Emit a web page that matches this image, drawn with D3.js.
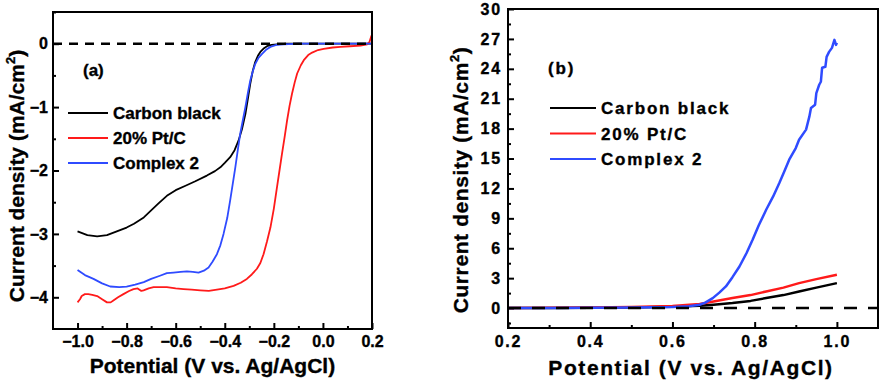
<!DOCTYPE html>
<html lang="en">
<head>
<meta charset="UTF-8">
<title>LSV curves</title>
<script src="https://d3js.org/d3.v7.min.js"></script>
<style>
    body { margin: 0; background: #fff; }
    text { font-family: "Liberation Sans", Arial, sans-serif; font-weight: bold; fill: #000; stroke: #000; stroke-width: 0.35px; }
    .frame { fill: none; stroke: #000; stroke-width: 2px; }
    .curve { fill: none; stroke-linejoin: round; }
    .zero { stroke: #000; stroke-width: 2.5px; }
    .axis path { display: none; }
    .axis line { stroke: #000; stroke-width: 2px; }
</style>
</head>
<body>
<svg id="chart" width="884" height="385"></svg>
<script>
// ---- panel (a): ORR ----
const cbX_a = [-1.0, -0.96, -0.92, -0.88, -0.84, -0.80, -0.77, -0.73, -0.70, -0.67, -0.636, -0.60, -0.56, -0.52, -0.473, -0.44, -0.418, -0.40, -0.378, -0.36, -0.344, -0.33, -0.316, -0.305, -0.296, -0.286, -0.276, -0.265, -0.255, -0.24, -0.228, -0.21, -0.187, -0.15, -0.1, 0, 0.1, 0.2];
const cbY_a = [-2.96, -3.02, -3.04, -3.02, -2.96, -2.90, -2.84, -2.74, -2.63, -2.52, -2.40, -2.31, -2.24, -2.17, -2.08, -2.01, -1.95, -1.88, -1.79, -1.68, -1.53, -1.35, -1.11, -0.85, -0.63, -0.43, -0.29, -0.19, -0.13, -0.07, -0.04, -0.02, -0.01, 0, 0, 0, 0, 0];

const ptX_a = [-1.0, -0.99, -0.983, -0.97, -0.956, -0.94, -0.92, -0.90, -0.88, -0.865, -0.854, -0.835, -0.813, -0.79, -0.772, -0.755, -0.74, -0.731, -0.71, -0.69, -0.66, -0.636, -0.60, -0.568, -0.535, -0.50, -0.465, -0.432, -0.40, -0.364, -0.335, -0.31, -0.29, -0.269, -0.255, -0.242, -0.228, -0.214, -0.20, -0.187, -0.177, -0.167, -0.156, -0.146, -0.136, -0.126, -0.115, -0.105, -0.09, -0.078, -0.06, -0.044, -0.02, 0.003, 0.04, 0.071, 0.11, 0.153, 0.18, 0.19, 0.198];
const ptY_a = [-4.08, -4.03, -3.98, -3.95, -3.95, -3.96, -3.98, -4.03, -4.08, -4.08, -4.05, -4.00, -3.95, -3.90, -3.87, -3.86, -3.90, -3.89, -3.86, -3.84, -3.84, -3.84, -3.86, -3.87, -3.88, -3.89, -3.90, -3.88, -3.86, -3.82, -3.77, -3.71, -3.64, -3.55, -3.46, -3.32, -3.12, -2.90, -2.60, -2.26, -2.00, -1.74, -1.47, -1.21, -0.98, -0.79, -0.61, -0.47, -0.34, -0.26, -0.18, -0.14, -0.10, -0.08, -0.06, -0.05, -0.04, -0.03, -0.01, 0.03, 0.13];

const c2X_a = [-1.0, -0.97, -0.935, -0.90, -0.867, -0.83, -0.80, -0.765, -0.73, -0.70, -0.664, -0.636, -0.609, -0.58, -0.554, -0.53, -0.507, -0.485, -0.466, -0.45, -0.432, -0.418, -0.405, -0.39, -0.378, -0.367, -0.357, -0.347, -0.337, -0.326, -0.316, -0.306, -0.296, -0.286, -0.276, -0.262, -0.248, -0.23, -0.214, -0.19, -0.16, -0.1, 0, 0.1, 0.2];
const c2Y_a = [-3.57, -3.65, -3.71, -3.78, -3.83, -3.84, -3.83, -3.80, -3.76, -3.71, -3.66, -3.62, -3.61, -3.60, -3.59, -3.60, -3.61, -3.58, -3.53, -3.44, -3.32, -3.18, -3.00, -2.75, -2.47, -2.20, -1.95, -1.68, -1.42, -1.20, -1.0, -0.78, -0.58, -0.44, -0.32, -0.22, -0.16, -0.09, -0.05, -0.02, -0.01, 0, 0, 0, 0];

// ---- panel (b): OER ----
const cbX_b = [0.2, 0.3, 0.4, 0.5, 0.6, 0.666, 0.70, 0.746, 0.79, 0.828, 0.87, 0.908, 0.95, 1.0];
const cbY_b = [0, 0.01, 0.03, 0.06, 0.12, 0.23, 0.33, 0.5, 0.72, 1.0, 1.3, 1.67, 2.05, 2.5];

const ptX_b = [0.2, 0.3, 0.4, 0.5, 0.6, 0.666, 0.70, 0.746, 0.79, 0.828, 0.87, 0.908, 0.95, 1.0];
const ptY_b = [0, 0.02, 0.05, 0.1, 0.2, 0.4, 0.65, 1.0, 1.3, 1.67, 2.05, 2.5, 2.9, 3.34];

const c2X_b = [0.2, 0.3, 0.4, 0.5, 0.6, 0.64, 0.666, 0.68, 0.698, 0.714, 0.73, 0.746, 0.763, 0.78, 0.795, 0.81, 0.828, 0.845, 0.86, 0.872, 0.884, 0.9, 0.908, 0.925, 0.933, 0.937, 0.947, 0.95, 0.957, 0.961, 0.964, 0.972, 0.975, 0.981, 0.988, 0.994, 0.998, 1.0];
const c2Y_b = [0, 0, 0.02, 0.05, 0.1, 0.18, 0.33, 0.55, 1.0, 1.55, 2.17, 3.1, 4.17, 5.5, 6.85, 8.3, 9.86, 11.2, 12.54, 13.7, 14.88, 16.05, 16.89, 17.9, 19.2, 20.07, 20.4, 21.57, 22.4, 22.7, 24.1, 24.2, 25.2, 25.7, 26.1, 26.9, 26.4, 26.6];

const seriesNames = ["Carbon black", "20% Pt/C", "Complex 2"];
const seriesColors = ["#000000", "#ff1a1a", "#2f4bff"];

const xTicksA = [-1.0, -0.8, -0.6, -0.4, -0.2, 0.0, 0.2];
const xMinorA = [-0.9, -0.7, -0.5, -0.3, -0.1, 0.1];
const yTicksA = [0, -1, -2, -3, -4];
const yMinorA = [0.5, -0.5, -1.5, -2.5, -3.5];

const xTicksB = [0.2, 0.4, 0.6, 0.8, 1.0];
const xMinorB = [0.3, 0.5, 0.7, 0.9];
const yTicksB = [0, 3, 6, 9, 12, 15, 18, 21, 24, 27, 30];
const yMinorB = [-1.5, 1.5, 4.5, 7.5, 10.5, 13.5, 16.5, 19.5, 22.5, 25.5, 28.5];

const svg = d3.select("#chart");

function zip(xs, ys) { return xs.map((v, i) => [v, ys[i]]); }

function drawPanel(p) {
    const x = d3.scaleLinear().domain(p.xDomain).range([p.left, p.right]);
    const y = d3.scaleLinear().domain(p.yDomain).range([p.bottom, p.top]);
    const g = svg.append("g");
    const ls = p.spacing + "px";

    // minor ticks
    g.append("g").attr("class", "axis").attr("transform", `translate(0,${p.bottom})`)
        .call(d3.axisBottom(x).tickValues(p.xMinor).tickSize(-3).tickFormat(""));
    g.append("g").attr("class", "axis").attr("transform", `translate(${p.left},0)`)
        .call(d3.axisLeft(y).tickValues(p.yMinor).tickSize(-3).tickFormat(""));

    // major ticks + labels
    const xa = g.append("g").attr("class", "axis").attr("transform", `translate(0,${p.bottom})`)
        .call(d3.axisBottom(x).tickValues(p.xTicks).tickSize(-6).tickPadding(p.xPad).tickFormat(d3.format(".1f")));
    xa.selectAll("text").attr("font-size", 16).attr("fill", "#000")
        .style("font-family", '"Liberation Sans", Arial, sans-serif').style("letter-spacing", ls);
    const ya = g.append("g").attr("class", "axis").attr("transform", `translate(${p.left},0)`)
        .call(d3.axisLeft(y).tickValues(p.yTicks).tickSize(-6).tickPadding(p.yPad).tickFormat(d3.format("d")));
    ya.selectAll("text").attr("font-size", 16).attr("fill", "#000")
        .style("font-family", '"Liberation Sans", Arial, sans-serif').style("letter-spacing", ls);

    // curves
    const line = d3.line().x(d => x(d[0])).y(d => y(d[1]));
    p.series.forEach((s, i) => {
        g.append("path").attr("class", "curve")
            .attr("d", line(s))
            .attr("stroke", seriesColors[i])
            .attr("stroke-width", p.lineWidth);
    });

    // zero reference line
    g.append("line").attr("class", "zero")
        .attr("x1", p.left).attr("x2", p.right)
        .attr("y1", y(0)).attr("y2", y(0))
        .attr("stroke-dasharray", p.dash);

    // frame
    g.append("rect").attr("class", "frame")
        .attr("x", p.left).attr("y", p.top)
        .attr("width", p.right - p.left).attr("height", p.bottom - p.top);

    // panel label
    g.append("text").attr("x", p.tagX).attr("y", p.tagY)
        .attr("font-size", 17).style("letter-spacing", ls).text(p.tag);

    // legend
    seriesNames.forEach((name, i) => {
        const yy = p.legY + i * p.legStep;
        g.append("line").attr("x1", p.legX).attr("x2", p.legX + p.legLen)
            .attr("y1", yy).attr("y2", yy)
            .attr("stroke", seriesColors[i]).attr("stroke-width", 2);
        g.append("text").attr("x", p.legX + p.legLen + 5).attr("y", yy + 6)
            .attr("font-size", 17).style("letter-spacing", ls).text(name);
    });

    // axis titles
    g.append("text").attr("x", (p.left + p.right) / 2 + p.xTitleDx).attr("y", p.xTitleY)
        .attr("text-anchor", "middle").attr("font-size", 21)
        .style("letter-spacing", p.titleSpacing + "px")
        .text("Potential (V vs. Ag/AgCl)");
    const yt = g.append("text")
        .attr("transform", `translate(${p.yTitleX},${p.yTitleY}) rotate(-90)`)
        .attr("text-anchor", "middle").attr("font-size", 21)
        .style("letter-spacing", p.yTitleSpacing + "px");
    yt.append("tspan").text("Current density (mA/cm");
    yt.append("tspan").attr("font-size", 13).attr("dy", -9).text("2");
    yt.append("tspan").attr("dy", 9).text(")");
}

drawPanel({
    xDomain: [-1.1, 0.2], yDomain: [-4.5, 0.5],
    left: 53, right: 372, top: 12, bottom: 329,
    xTicks: xTicksA, xMinor: xMinorA, yTicks: yTicksA, yMinor: yMinorA,
    xPad: 7, yPad: 5, spacing: 0, lineWidth: 1.8, dash: "9,7",
    series: [zip(cbX_a, cbY_a), zip(ptX_a, ptY_a), zip(c2X_a, c2Y_a)],
    tag: "(a)", tagX: 83, tagY: 76,
    legX: 68, legY: 113, legStep: 25, legLen: 40,
    xTitleDx: 0, xTitleY: 373, titleSpacing: 0,
    yTitleX: 24, yTitleY: 176, yTitleSpacing: 0
});

drawPanel({
    xDomain: [0.2, 1.1], yDomain: [-2, 30],
    left: 508, right: 878, top: 9, bottom: 328,
    xTicks: xTicksB, xMinor: xMinorB, yTicks: yTicksB, yMinor: yMinorB,
    xPad: 8, yPad: 6, spacing: 1.8, lineWidth: 2.5, dash: "13,11",
    series: [zip(cbX_b, cbY_b), zip(ptX_b, ptY_b), zip(c2X_b, c2Y_b)],
    tag: "(b)", tagX: 548, tagY: 74,
    legX: 550, legY: 108, legStep: 25.5, legLen: 46,
    xTitleDx: -2, xTitleY: 375, titleSpacing: 1.6,
    yTitleX: 468, yTitleY: 180, yTitleSpacing: 0.6
});
</script>
</body>
</html>
